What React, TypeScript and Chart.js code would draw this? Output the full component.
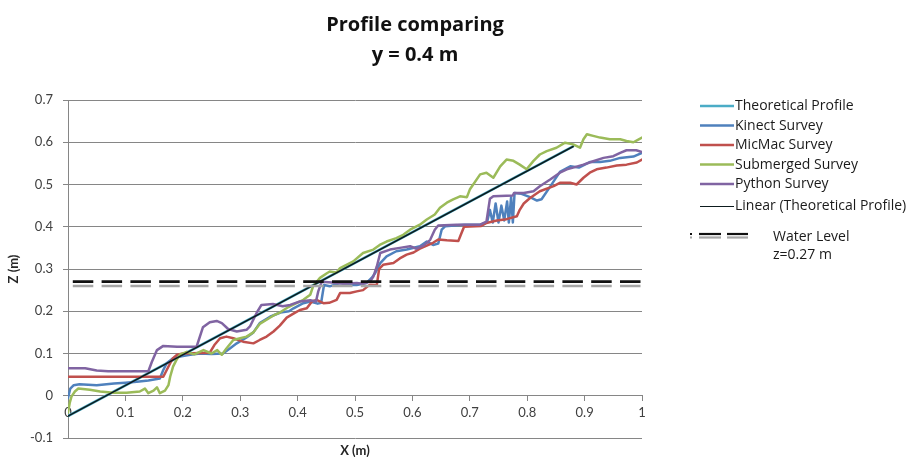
import React, { useEffect, useRef } from "react";
import { Chart, registerables } from "chart.js";

Chart.register(...registerables);

// ---------- data ----------
const titleLines = ["Profile comparing", "y = 0.4 m"];
const xAxisTitle = "X (m)";
const yAxisTitle = "Z (m)";
const waterLevelLabel = ["Water Level", "z=0.27 m"];

const theoreticalX = [0, 0.88];
const theoreticalY = [-0.048, 0.59];

const linearX = [0, 0.88];
const linearY = [-0.048, 0.59];

const kinectX = [0, 0.004, 0.01, 0.02, 0.05, 0.08, 0.1, 0.12, 0.14, 0.16, 0.166, 0.172, 0.183, 0.195, 0.213, 0.23, 0.25, 0.27, 0.282, 0.294, 0.311, 0.323, 0.334, 0.352, 0.37, 0.385, 0.393, 0.41, 0.422, 0.435, 0.441, 0.446, 0.456, 0.474, 0.491, 0.503, 0.52, 0.529, 0.535, 0.544, 0.555, 0.572, 0.59, 0.613, 0.625, 0.636, 0.645, 0.651, 0.657, 0.69, 0.718, 0.73, 0.735, 0.74, 0.745, 0.75, 0.755, 0.76, 0.765, 0.768, 0.772, 0.775, 0.778, 0.79, 0.805, 0.817, 0.825, 0.84, 0.857, 0.875, 0.89, 0.909, 0.927, 0.944, 0.962, 0.985, 1.0];
const kinectY = [-0.005, 0.017, 0.025, 0.027, 0.025, 0.029, 0.031, 0.033, 0.036, 0.041, 0.061, 0.077, 0.089, 0.093, 0.097, 0.1, 0.099, 0.1, 0.112, 0.124, 0.138, 0.15, 0.172, 0.187, 0.197, 0.2, 0.207, 0.219, 0.223, 0.218, 0.22, 0.262, 0.259, 0.267, 0.262, 0.262, 0.267, 0.279, 0.29, 0.314, 0.33, 0.342, 0.346, 0.354, 0.365, 0.357, 0.36, 0.393, 0.401, 0.405, 0.405, 0.41, 0.44, 0.41, 0.455, 0.41, 0.45, 0.415, 0.46, 0.41, 0.47, 0.41, 0.48, 0.478, 0.47, 0.462, 0.465, 0.495, 0.53, 0.543, 0.54, 0.553, 0.553, 0.556, 0.563, 0.566, 0.575];

const micmacX = [0, 0.166, 0.172, 0.178, 0.183, 0.19, 0.2, 0.247, 0.255, 0.265, 0.276, 0.288, 0.305, 0.323, 0.334, 0.346, 0.358, 0.369, 0.381, 0.395, 0.404, 0.416, 0.425, 0.433, 0.445, 0.455, 0.468, 0.474, 0.491, 0.503, 0.514, 0.526, 0.538, 0.542, 0.549, 0.567, 0.578, 0.59, 0.602, 0.613, 0.636, 0.645, 0.66, 0.68, 0.684, 0.69, 0.72, 0.729, 0.747, 0.764, 0.782, 0.787, 0.794, 0.805, 0.822, 0.846, 0.857, 0.875, 0.886, 0.898, 0.909, 0.921, 0.938, 0.956, 0.973, 0.991, 1.0];
const micmacY = [0.045, 0.045, 0.061, 0.077, 0.089, 0.097, 0.1, 0.102, 0.12, 0.136, 0.14, 0.136, 0.128, 0.124, 0.132, 0.14, 0.152, 0.166, 0.185, 0.196, 0.203, 0.207, 0.223, 0.227, 0.219, 0.22, 0.227, 0.243, 0.243, 0.247, 0.25, 0.263, 0.262, 0.3, 0.31, 0.314, 0.325, 0.334, 0.339, 0.348, 0.362, 0.37, 0.368, 0.366, 0.38, 0.4, 0.402, 0.409, 0.415, 0.418, 0.425, 0.44, 0.455, 0.468, 0.484, 0.496, 0.504, 0.504, 0.5, 0.516, 0.528, 0.536, 0.54, 0.545, 0.547, 0.552, 0.559];

const submergedX = [0, 0.003, 0.006, 0.012, 0.018, 0.038, 0.056, 0.079, 0.102, 0.125, 0.134, 0.14, 0.149, 0.155, 0.16, 0.169, 0.175, 0.178, 0.183, 0.189, 0.195, 0.207, 0.22, 0.236, 0.25, 0.26, 0.268, 0.276, 0.288, 0.3, 0.311, 0.323, 0.334, 0.346, 0.358, 0.369, 0.384, 0.398, 0.41, 0.422, 0.427, 0.439, 0.451, 0.456, 0.468, 0.474, 0.497, 0.514, 0.532, 0.543, 0.555, 0.572, 0.584, 0.596, 0.613, 0.625, 0.639, 0.648, 0.66, 0.671, 0.683, 0.695, 0.7, 0.718, 0.729, 0.741, 0.753, 0.764, 0.776, 0.787, 0.799, 0.811, 0.822, 0.834, 0.851, 0.866, 0.88, 0.892, 0.898, 0.904, 0.915, 0.927, 0.944, 0.962, 0.973, 0.985, 0.992, 1.0];
const submergedY = [-0.04, -0.017, -0.002, 0.01, 0.017, 0.014, 0.01, 0.007, 0.007, 0.01, 0.017, 0.006, 0.012, 0.02, 0.006, 0.012, 0.025, 0.045, 0.069, 0.085, 0.097, 0.104, 0.098, 0.108, 0.1, 0.108, 0.097, 0.112, 0.132, 0.136, 0.14, 0.15, 0.17, 0.18, 0.19, 0.197, 0.21, 0.219, 0.227, 0.239, 0.259, 0.279, 0.29, 0.294, 0.292, 0.302, 0.318, 0.338, 0.346, 0.357, 0.365, 0.373, 0.381, 0.393, 0.405, 0.417, 0.429, 0.445, 0.457, 0.465, 0.472, 0.47, 0.488, 0.524, 0.528, 0.516, 0.543, 0.559, 0.556, 0.547, 0.536, 0.556, 0.571, 0.579, 0.587, 0.599, 0.595, 0.587, 0.607, 0.619, 0.615, 0.611, 0.607, 0.607, 0.603, 0.6, 0.605, 0.611];

const pythonX = [0, 0.03, 0.05, 0.07, 0.1, 0.14, 0.146, 0.155, 0.166, 0.19, 0.224, 0.235, 0.247, 0.259, 0.268, 0.279, 0.294, 0.311, 0.317, 0.329, 0.337, 0.357, 0.374, 0.387, 0.404, 0.422, 0.432, 0.436, 0.442, 0.46, 0.48, 0.503, 0.514, 0.526, 0.532, 0.538, 0.544, 0.561, 0.578, 0.596, 0.607, 0.62, 0.631, 0.639, 0.645, 0.677, 0.718, 0.729, 0.735, 0.741, 0.775, 0.777, 0.794, 0.811, 0.822, 0.84, 0.857, 0.869, 0.88, 0.898, 0.915, 0.933, 0.95, 0.962, 0.973, 0.99, 1.0];
const pythonY = [0.065, 0.065, 0.06, 0.058, 0.058, 0.058, 0.08, 0.108, 0.118, 0.116, 0.116, 0.162, 0.174, 0.177, 0.172, 0.158, 0.152, 0.156, 0.164, 0.197, 0.215, 0.217, 0.212, 0.215, 0.223, 0.226, 0.223, 0.247, 0.27, 0.268, 0.265, 0.267, 0.265, 0.27, 0.282, 0.306, 0.338, 0.346, 0.35, 0.354, 0.348, 0.356, 0.369, 0.393, 0.403, 0.405, 0.405, 0.412, 0.466, 0.472, 0.474, 0.48, 0.48, 0.484, 0.496, 0.512, 0.528, 0.536, 0.54, 0.547, 0.555, 0.563, 0.567, 0.575, 0.581, 0.581, 0.577];

const waterLevelX = [0, 1];
const waterLevelY = [0.27, 0.27];
const waterShadowY = [0.26, 0.26];

const xRange = [0, 1, 0.1];
const yRange = [-0.1, 0.7, 0.1];

// ---------- helpers / layout ----------
const pts = (xs: number[], ys: number[]) => xs.map((x, i) => ({ x, y: ys[i] }));
const fmt = (v: any) => String(Number(Number(v).toFixed(1)) + 0);

const FONT = "Lato";
const TEXT_FONT = "'Open Sans'";
const LEGEND_ROWS = [106, 125.5, 145, 164.5, 184, 206];

const annotationPlugin = {
  id: "annotations",
  afterDraw(chart: any) {
    const ctx = chart.ctx as CanvasRenderingContext2D;
    ctx.save();
    // Title
    ctx.fillStyle = "#111";
    ctx.font = `bold 20px ${TEXT_FONT}`;
    ctx.textAlign = "center";
    ctx.textBaseline = "middle";
    ctx.fillText(titleLines[0], 415, 25);
    ctx.fillText(titleLines[1], 415, 55);

    // Legend
    ctx.font = `14px ${TEXT_FONT}`;
    ctx.textAlign = "left";
    let row = 0;
    chart.data.datasets.forEach((ds: any) => {
      if (ds.hideInLegend) return;
      const y = LEGEND_ROWS[row++];
      const w = ds.legendWidth || ds.borderWidth;
      const ly = w < 2 ? Math.round(y) + 0.5 : y;
      ctx.beginPath();
      ctx.strokeStyle = ds.borderColor;
      ctx.lineWidth = w;
      ctx.setLineDash([]);
      ctx.moveTo(700, ly);
      ctx.lineTo(734, ly);
      ctx.stroke();
      ctx.fillStyle = "#1a1a1a";
      ctx.fillText(ds.label, 735, y + 0.5);
    });

    // Water level legend symbol
    const wy = 234;
    const segs = [[690, 692], [699, 721], [727, 748]];
    segs.forEach(([a, b]) => {
      ctx.lineWidth = 2.2;
      ctx.strokeStyle = "#111";
      ctx.beginPath();
      ctx.moveTo(a, wy);
      ctx.lineTo(b, wy);
      ctx.stroke();
      ctx.strokeStyle = "#a6a6a6";
      ctx.beginPath();
      ctx.moveTo(a, wy + 3.5);
      ctx.lineTo(b, wy + 3.5);
      ctx.stroke();
    });
    ctx.fillStyle = "#1a1a1a";
    ctx.fillText(waterLevelLabel[0], 773, 237);
    ctx.fillText(waterLevelLabel[1], 773, 255);
    ctx.restore();
  },
};

export default function App() {
  const ref = useRef<HTMLCanvasElement | null>(null);

  useEffect(() => {
    const canvas = ref.current;
    if (!canvas) return;
    Chart.defaults.font.family = FONT;

    const line = (label: string, xs: number[], ys: number[], color: string, width: number, order: number, extra: any = {}) => ({
      label,
      data: pts(xs, ys),
      borderColor: color,
      backgroundColor: color,
      borderWidth: width,
      showLine: true,
      pointRadius: 0,
      pointHoverRadius: 0,
      tension: 0,
      fill: false,
      borderJoinStyle: "round",
      borderCapStyle: "round",
      order,
      ...extra,
    });

    const chart = new Chart(canvas, {
      type: "scatter",
      data: {
        datasets: [
          line("Theoretical Profile", theoreticalX, theoreticalY, "#4BACC6", 2.5, 7),
          line("Kinect Survey", kinectX, kinectY, "#4F81BD", 2.5, 6),
          line("MicMac Survey", micmacX, micmacY, "#C0504D", 2.5, 5),
          line("Submerged Survey", submergedX, submergedY, "#9BBB59", 2.5, 4),
          line("Python Survey", pythonX, pythonY, "#8064A2", 2.5, 3),
          line("Linear (Theoretical Profile)", linearX, linearY, "#0d1b1e", 1.5, 2, { legendWidth: 1 }),
          line("Water Level shadow", waterLevelX, waterShadowY, "#A6A6A6", 2.5, 1, {
            borderDash: [20.5, 8.3], borderDashOffset: 24, borderCapStyle: "butt", hideInLegend: true,
          }),
          line("Water Level", waterLevelX, waterLevelY, "#111111", 2.8, 0, {
            borderDash: [20.5, 8.3], borderDashOffset: 24, borderCapStyle: "butt", hideInLegend: true,
          }),
        ] as any,
      },
      options: {
        animation: false,
        responsive: false,
        devicePixelRatio: 1,
        events: [],
        layout: { padding: { left: 0, top: 100, right: 268, bottom: 19 } },
        plugins: { legend: { display: false }, title: { display: false }, tooltip: { enabled: false } },
        scales: {
          x: {
            type: "linear",
            position: { y: 0 } as any,
            min: xRange[0],
            max: xRange[1],
            ticks: { stepSize: xRange[2], padding: 4, color: "#404040", font: { size: 13, family: FONT }, callback: fmt },
            grid: { drawOnChartArea: false, drawTicks: true, tickLength: 5, color: "#868686", lineWidth: 1 },
            border: { display: true, color: "#868686", width: 1 },
            title: { display: true, text: xAxisTitle, color: "#262626", font: { size: 13, weight: "bold", family: FONT }, padding: { top: 19, bottom: 0 } },
          },
          y: {
            type: "linear",
            position: "left",
            min: yRange[0],
            max: yRange[1],
            afterFit: (scale: any) => { scale.width = 68; },
            ticks: { stepSize: yRange[2], padding: 10, color: "#404040", font: { size: 13, family: FONT }, callback: fmt },
            grid: { drawTicks: true, tickLength: 5, color: "#868686", lineWidth: 1 },
            border: { display: true, color: "#868686", width: 1 },
            title: { display: true, text: yAxisTitle, color: "#262626", font: { size: 13, weight: "bold", family: FONT }, padding: { top: 6, bottom: 0 } },
          },
        },
      } as any,
      plugins: [annotationPlugin],
    });

    let alive = true;
    if ((document as any).fonts?.ready) {
      (document as any).fonts.ready.then(() => { if (alive) chart.update(); });
    }
    return () => { alive = false; chart.destroy(); };
  }, []);

  return (
    <div style={{ position: "fixed", left: 0, top: 0, width: 910, height: 457, background: "#fff" }}>
      <canvas ref={ref} width={910} height={457} style={{ display: "block", width: 910, height: 457 }} />
    </div>
  );
}
